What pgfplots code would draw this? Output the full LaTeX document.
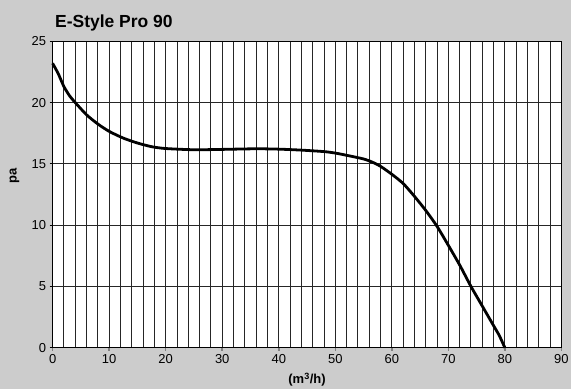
\documentclass[border=0pt]{standalone}
\usepackage{pgfplots}
\pgfplotsset{compat=1.18}
\usepackage{fontspec}
\setmainfont{Liberation Sans}
\definecolor{bggray}{HTML}{CCCCCC}
\definecolor{tickgray}{HTML}{808080}
\begin{document}
\begin{tikzpicture}[x=1pt,y=1pt]
% chart background
\fill[bggray] (-52.7,-41.7) rectangle (519.3,348.3);
\node[anchor=base west, font=\bfseries\fontsize{17.5}{17.5}\selectfont] at (-1,321) {E-Style Pro 90};
\begin{axis}[
  at={(0,0)}, anchor=south west,
  scale only axis,
  width=509.6pt, height=307pt,
  xmin=0, xmax=90, ymin=0, ymax=25,
  xtick={0,10,...,90},
  minor xtick={2,4,...,88},
  ytick={0,5,...,25},
  tick pos=left,
  grid=both,
  major grid style={black!85, line width=1pt},
  minor grid style={black!85, line width=1pt},
  axis line style={black, line width=1.3pt},
  axis background/.style={fill=white},
  tick align=outside,
  major tick length=3pt,
  minor tick length=0pt,
  xtick style={tickgray, line width=1.6pt},
  ytick style={black, line width=1.2pt},
  ticklabel style={font=\fontsize{13}{13}\selectfont},
  /pgf/number format/assume math mode=true,
  xlabel={\bfseries(m\textsuperscript{3}/h)},
  ylabel={\bfseries pa},
  xlabel style={font=\fontsize{13}{13}\selectfont, at={(axis description cs:0.5,-0.104)}, anchor=center},
  ylabel style={font=\fontsize{13}{13}\selectfont, at={(axis description cs:-0.075,0.56)}, anchor=center},
  clip=false,
]
\addplot[black, line width=2.8pt, smooth, tension=0.4] coordinates {
 (0,23.2) (1,22.35) (2,21.3) (3,20.55) (4,20.0) (6,19.0) (8,18.25) (10,17.65)
 (12.5,17.1) (15,16.7) (17.5,16.4) (20,16.25) (25,16.15) (30,16.18) (36,16.23)
 (40,16.2) (44,16.12) (48,16.0) (50,15.88) (52.5,15.65) (55,15.4) (56.5,15.15)
 (58,14.8) (60,14.15) (62,13.4) (64,12.35) (66,11.2) (68,9.9) (70,8.35)
 (72,6.75) (74,5.0) (76,3.4) (78,1.8) (79,1.0) (80,0)
};
\end{axis}
\end{tikzpicture}
\end{document}
